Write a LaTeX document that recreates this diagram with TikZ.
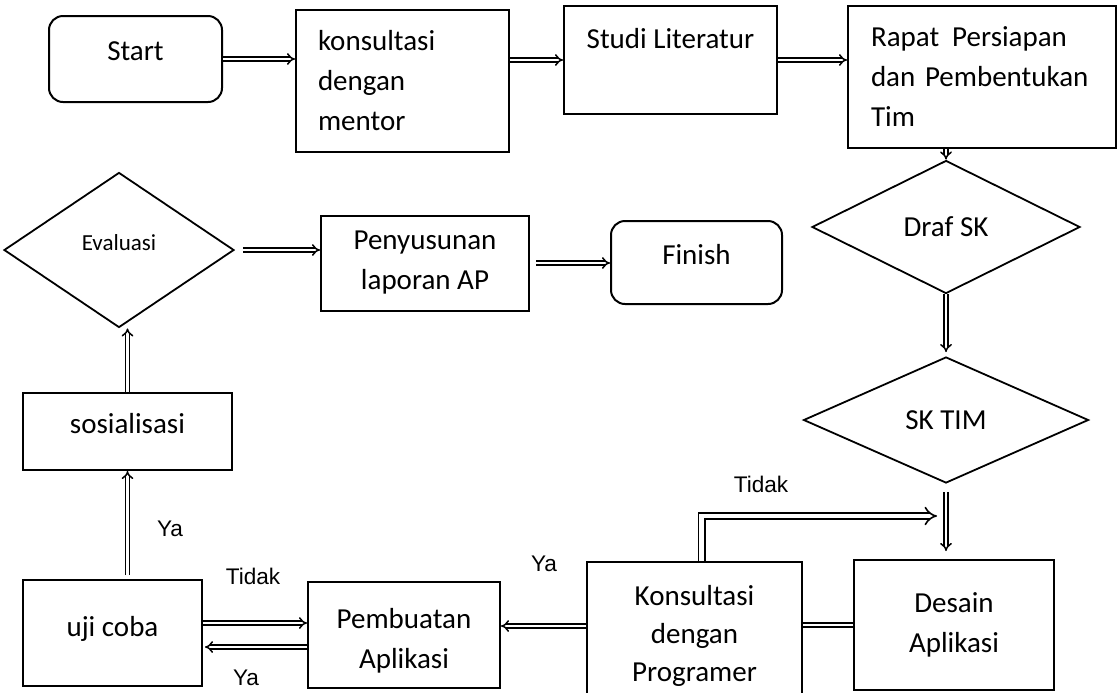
\documentclass[tikz,border=0pt]{standalone}
\usepackage{fontspec}
\setmainfont{Carlito}
\newfontfamily\labelfont{Liberation Sans}
\usetikzlibrary{shapes.geometric,arrows.meta}

\tikzset{
  box/.style  = {shape = rectangle, draw = black, line width = 1pt,
                 font = \fontsize{14.5}{20}\selectfont},
  term/.style = {box, rounded corners = 7pt},
  cond/.style = {shape = diamond, draw = black, line width = 0.9pt, inner sep = 0pt,
                 font = \fontsize{14.5}{20}\selectfont},
  flow/.style = {double, double distance = 1.2pt, line width = 0.75pt, -{Implies}},
  ans/.style  = {font = \labelfont\fontsize{11.3}{13}\selectfont},
  lift/.style = {text height = 10pt, text depth = #1},
}

\begin{document}
\begin{tikzpicture}[x = 0.5pt, y = -0.5pt]
        \useasboundingbox (0, 0) rectangle (1117, 692);

        % ------------------------------------------------------------------------
        % Top row
        \node[term, minimum width = 86.5pt, minimum height = 43pt, lift = 9pt] at (135.5, 59) (start) {Start};

        \node[box, minimum width = 106.5pt, minimum height = 71pt, align = left,
              text width = 84.5pt, inner xsep = 11pt] at (402.5, 81) (mentor) {konsultasi\\dengan\\mentor};

        \node[box, minimum width = 106.5pt, minimum height = 54pt, lift = 22pt] at (670.5, 60) (studi) {Studi Literatur};

        \node[box, minimum width = 134pt, minimum height = 71pt, align = left,
              text width = 111pt, inner xsep = 11.5pt] at (982, 77) (rapat) {Rapat\hspace{0.45em}Persiapan\\dan Pembentukan\\Tim};

        % ------------------------------------------------------------------------
        % Right column
        \node[cond, minimum width = 134pt,   minimum height = 66.5pt] at (946, 227) (draf)  {Draf SK};
        \node[cond, minimum width = 142.5pt, minimum height = 63pt]   at (946, 420) (sktim) {SK TIM};

        \node[box, minimum width = 100pt,   minimum height = 65pt, align = center] at (954, 625)   (desain) {Desain\\Aplikasi};
        \node[box, minimum width = 107.5pt, minimum height = 74pt, align = center,
              font = \fontsize{14.5}{19}\selectfont] at (694.5, 636) (progr)  {Konsultasi\\dengan\\Programer};

        % ------------------------------------------------------------------------
        % Bottom row and left column
        \node[box, minimum width = 96pt,    minimum height = 53pt, align = center,
              text height = 36pt] at (404, 635) (pemb) {Pembuatan\\Aplikasi};
        \node[box, minimum width = 89.5pt,  minimum height = 53pt,   lift = 7pt]   at (112.5, 633)   (uji)    {uji coba};
        \node[box, minimum width = 104.5pt, minimum height = 38.5pt, lift = 8pt]   at (127.5, 431.5) (sosial) {sosialisasi};

        \node[cond, minimum width = 115pt, minimum height = 77.5pt, text height = 8pt, text depth = 8pt,
              font = \fontsize{11.5}{14}\selectfont] at (119, 250) (eval) {Evaluasi};

        \node[box,  minimum width = 104pt,  minimum height = 47.5pt, align = center] at (425, 263) (lapor)  {Penyusunan\\laporan AP};
        \node[term, minimum width = 85.5pt, minimum height = 41.5pt, lift = 8pt]     at (696.5, 262.5) (finish) {Finish};

        % ------------------------------------------------------------------------
        % Answers
        \node[ans] at (761, 484) (tidakA) {Tidak};
        \node[ans] at (544, 564) (yaA)    {Ya};
        \node[ans] at (253, 576) (tidakB) {Tidak};
        \node[ans] at (246, 678) (yaB)    {Ya};
        \node[ans] at (170, 529) (yaC)    {Ya};

        \coordinate (tidakEnd) at (937, 516);

        % ------------------------------------------------------------------------
        % Flow
        \draw[flow] (start.east) -- (start.east -| mentor.west);
        \draw[flow] (studi.west -| mentor.east) -- (studi.west);
        \draw[flow] (studi.east) -- (studi.east -| rapat.west);
        \draw[flow] (draf.north |- rapat.south) -- (draf.north);
        \draw[flow, shorten > = 2pt] (draf.south) -- (sktim.north);
        \draw[flow, shorten < = 4pt, shorten > = 4pt] (sktim.south) -- (sktim.south |- desain.north);
        \draw[flow] (progr.west |- 0, 626) -- (pemb.east |- 0, 626);
        \draw[flow] ([yshift = 5pt]uji.east) -- ([yshift = 5pt]uji.east -| pemb.west);
        \draw[flow, shorten > = 1pt] ([yshift = -6pt]pemb.west) -- ([yshift = -6pt]pemb.west -| uji.east);
        \draw[flow, shorten < = 2pt] (uji.north -| sosial.south) -- (sosial.south);
        \draw[flow] (sosial.north) -- (sosial.north |- eval.south);
        \draw[flow, shorten < = 4pt] (eval.east) -- (eval.east -| lapor.west);
        \draw[flow, shorten < = 3pt] (lapor.east) -- (lapor.east -| finish.west);
        \draw[flow, -] (desain.west) -- (desain.west -| progr.east);
        \draw[flow, double distance = 2.4pt, line width = 0.8pt] ([xshift = 3.5pt]progr.north) |- (tidakEnd);
      \end{tikzpicture}
\end{document}
